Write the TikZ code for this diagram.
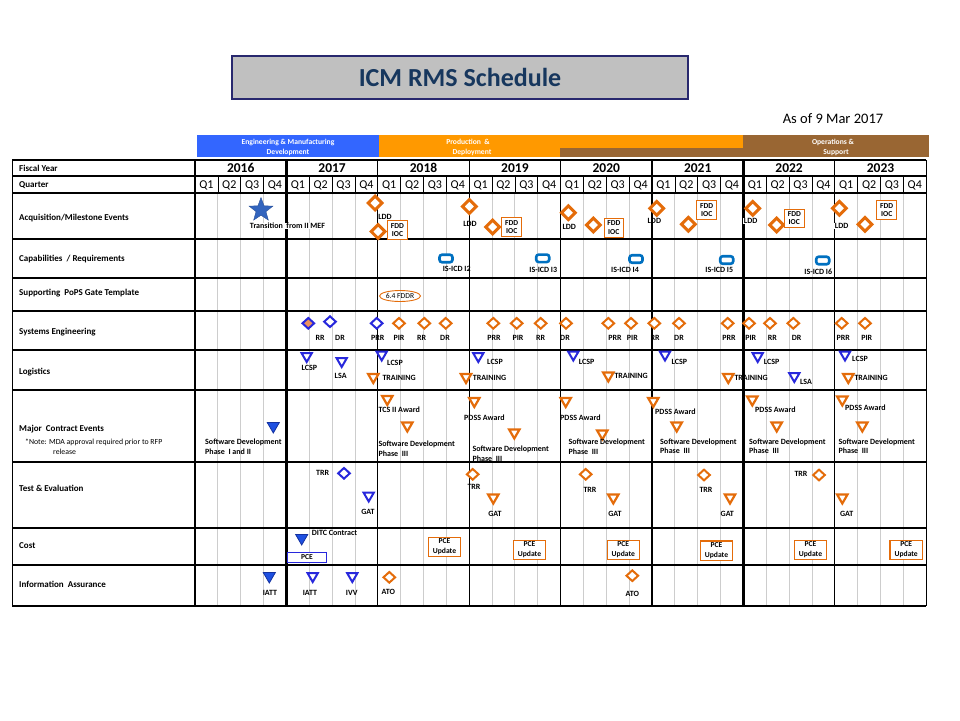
\documentclass[tikz,border=0pt]{standalone}
\usepackage{fontspec}
\setmainfont{Carlito}
\usetikzlibrary{shapes.geometric}
\definecolor{orgC}{RGB}{228,108,10}
\definecolor{bluC}{RGB}{40,40,220}
\definecolor{bluF}{RGB}{30,80,225}
\definecolor{bluD}{RGB}{20,50,160}
\definecolor{capC}{RGB}{0,112,192}
\definecolor{hdrBlue}{RGB}{51,102,255}
\definecolor{hdrOrange}{RGB}{255,153,0}
\definecolor{hdrBrown}{RGB}{153,102,51}
\definecolor{titleC}{RGB}{23,55,94}
\definecolor{titleB}{RGB}{40,40,110}
\definecolor{titleF}{RGB}{192,192,192}
\definecolor{gridG}{RGB}{205,205,205}
\definecolor{salmonC}{RGB}{235,145,95}
\definecolor{starC}{RGB}{50,100,190}
\begin{document}
\begin{tikzpicture}[x=1pt,y=-1pt,
  lbl/.style={font=\bfseries\fontsize{8}{9}\selectfont, inner sep=0pt, text height=5.2pt, text depth=0pt},
  lblw/.style={lbl, anchor=west},
  rowlbl/.style={font=\bfseries\fontsize{9}{10}\selectfont, anchor=west, inner sep=0pt, text height=5.9pt, text depth=0pt},
  hdr/.style={font=\bfseries\fontsize{7.6}{8}\selectfont, text=white, inner sep=0pt, text height=5pt, text depth=0pt},
  yr/.style={font=\bfseries\fontsize{13.5}{14}\selectfont, inner sep=0pt, text height=8.5pt, text depth=0pt},
  qt/.style={font=\fontsize{12}{13}\selectfont, inner sep=0pt, text height=7.7pt, text depth=0pt},
  odia/.style={diamond, draw=orgC, fill=white, line width=3pt, minimum width=15pt, minimum height=15pt, inner sep=0pt},
  sodia/.style={diamond, draw=orgC, fill=white, line width=2pt, minimum width=12.5pt, minimum height=11.5pt, inner sep=0pt},
  sbdia/.style={diamond, draw=bluC, fill=white, line width=2pt, minimum width=12.5pt, minimum height=11.5pt, inner sep=0pt},
  otri/.style={regular polygon, regular polygon sides=3, shape border rotate=180, draw=orgC, fill=white, line width=2.2pt, minimum size=12pt, inner sep=0pt},
  btri/.style={regular polygon, regular polygon sides=3, shape border rotate=180, draw=bluC, fill=white, line width=2pt, minimum size=12pt, inner sep=0pt},
  ftri/.style={regular polygon, regular polygon sides=3, shape border rotate=180, draw=bluD, fill=bluF, line width=0.8pt, minimum size=14pt, inner sep=0pt},
  fddbox/.style={draw=orgC, fill=white, line width=1pt, minimum width=19.6pt, minimum height=18.6pt, inner sep=0pt, align=center, font=\bfseries\fontsize{7.6}{8.5}\selectfont},
  pcebox/.style={draw=orgC, fill=white, line width=1.2pt, minimum width=32.4pt, minimum height=19.4pt, inner sep=0pt, align=center, font=\bfseries\fontsize{7.6}{10}\selectfont},
  capicon/.style={rectangle, rounded corners=2.5pt, draw=capC, fill=white, line width=2.6pt, minimum width=13pt, minimum height=7.5pt, inner sep=0pt},
  gridln/.style={draw=gridG, line width=0.9pt},
  rowln/.style={draw=black, line width=1.2pt},
  thinyr/.style={draw=black, line width=1.2pt},
  thickyr/.style={draw=black, line width=2.3pt}
]
\useasboundingbox (0,0) rectangle (960,720);

% ---------- title ----------
\node[draw=titleB, fill=titleF, line width=1.3pt, minimum width=456pt, minimum height=43pt, inner sep=0pt,
      font=\bfseries\fontsize{26}{28}\selectfont, text=titleC] (title) at (460,77.5) {ICM RMS Schedule};
\node[font=\fontsize{14.5}{16}\selectfont, inner sep=0pt] (asof) at (833,119) {As of 9 Mar 2017};

% ---------- phase header bars ----------
\fill[hdrBlue] (197,135) rectangle (379,157);
\fill[hdrOrange] (379,135) rectangle (743,148);
\fill[hdrOrange] (379,148) rectangle (560,157);
\fill[hdrBrown] (560,148) rectangle (743,157);
\fill[hdrBrown] (743,135) rectangle (929,157);
\node[hdr] (h1a) at (288,142) {Engineering \& Manufacturing};
\node[hdr] (h1b) at (288,151.5) {Development};
\node[hdr] (h2a) at (468,142) {Production \ \&};
\node[hdr] (h2b) at (472,151.5) {Deployment};
\node[hdr] (h3a) at (833,142) {Operations \&};
\node[hdr] (h3b) at (836,151.5) {Support};

% ---------- grid ----------
\foreach \k in {0,...,7}
  \foreach \q in {1,2,3}
    \draw[gridln] ({195+91.4*\k+22.85*\q},193) -- ({195+91.4*\k+22.85*\q},606);
\foreach \k in {0,...,7}
  \foreach \q in {1,2,3}
    \draw[line width=0.6pt] ({195+91.4*\k+22.85*\q},176) -- ({195+91.4*\k+22.85*\q},193);
\foreach \yy in {160,176,193,239,278,311,350,390,462,528,565,606}
  \draw[rowln] (12,\yy) -- (926.2,\yy);
\draw[line width=0.8pt] (12,160) -- (12,606);
\foreach \xx in {377.8,469.2,560.6,652,834.8,926.2}
  \draw[thinyr] (\xx,160) -- (\xx,606);
\foreach \xx in {195,286.4,743.4}
  \draw[thickyr] (\xx,160) -- (\xx,606);

% years and quarters
\foreach \yv [count=\i from 0] in {2016,2017,2018,2019,2020,2021,2022,2023}
  \node[yr] (yr\i) at ({195+91.4*\i+45.7},168.5) {\yv};
\foreach \k in {0,...,7}
  \foreach \q in {1,2,3,4}
    \node[qt] (q\k\q) at ({195+91.4*\k+22.85*(\q-0.5)},185) {Q\q};

% ---------- row labels ----------
\node[rowlbl] (r0) at (19,168.5) {Fiscal Year};
\node[rowlbl] (r1) at (19,185) {Quarter};
\node[rowlbl] (r2) at (19,217.5) {Acquisition/Milestone Events};
\node[rowlbl] (r3) at (19,259) {Capabilities \ / Requirements};
\node[rowlbl] (r4) at (19,293) {Supporting \ PoPS Gate Template};
\node[rowlbl] (r5) at (19,332) {Systems Engineering};
\node[rowlbl] (r6) at (19,372) {Logistics};
\node[rowlbl] (r7) at (19,428.5) {Major \ Contract Events};
\node[font=\fontsize{7.8}{9}\selectfont, anchor=west, inner sep=0pt, text height=5pt, text depth=0pt] (r7n) at (25,442) {*Note: MDA approval required prior to RFP};
\node[font=\fontsize{7.8}{9}\selectfont, anchor=west, inner sep=0pt, text height=5pt, text depth=0pt] (r7m) at (53,452) {release};
\node[rowlbl] (r8) at (19,489) {Test \& Evaluation};
\node[rowlbl] (r9) at (19,546) {Cost};
\node[rowlbl] (r10) at (19,585) {Information \ Assurance};

% ---------- Acquisition / Milestone ----------
\node[star, star points=5, star point ratio=2.4, minimum size=25pt, inner sep=0pt, fill=starC, draw=starC!80!black, line width=0.4pt] (star) at (261,210) {};
\node[lbl, fill=white, inner sep=0.8pt] (startx) at (287.5,226) {Transition \ from II MEF};

\node[odia] (a1) at (375,203) {};
\node[lbl] (a1l) at (385,216.5) {LDD};
\node[odia] (a2) at (378,231.5) {};
\node[fddbox] (a2b) at (397.5,230) {FDD\\IOC};
\node[odia] (a3) at (469.3,206.5) {};
\node[lbl] (a3l) at (470,224) {LDD};
\node[odia] (a4) at (492.7,227) {};
\node[fddbox] (a4b) at (511.7,227) {FDD\\IOC};
\node[odia] (a5) at (568.3,212.7) {};
\node[lbl] (a5l) at (569.3,227.3) {LDD};
\node[odia] (a6) at (593.3,225) {};
\node[fddbox] (a6b) at (613.8,227.8) {FDD\\IOC};
\node[odia] (a7) at (656.7,208.3) {};
\node[lbl] (a7l) at (654.3,221) {LDD};
\node[odia] (a8) at (688.3,224.3) {};
\node[fddbox] (a8b) at (706.7,210) {FDD\\IOC};
\node[odia] (a9) at (752.7,208.3) {};
\node[lbl, fill=white, inner sep=0.5pt] (a9l) at (750.7,220.7) {LDD};
\node[odia] (a10) at (776.7,225) {};
\node[fddbox] (a10b) at (794.3,218.3) {FDD\\IOC};
\node[odia] (a11) at (839.3,208.3) {};
\node[lbl, fill=white, inner sep=0.5pt] (a11l) at (841.7,226) {LDD};
\node[odia] (a12) at (865,224.3) {};
\node[fddbox] (a12b) at (886.7,210) {FDD\\IOC};

% ---------- Capabilities ----------
\node[capicon] (c2) at (446,258.5) {};
\node[lbl] (c2l) at (456.7,269.3) {IS-ICD I2};
\node[capicon] (c3) at (542.7,258.3) {};
\node[lbl] (c3l) at (543.3,270) {IS-ICD I3};
\node[capicon] (c4) at (636,259) {};
\node[lbl] (c4l) at (625,270) {IS-ICD I4};
\node[capicon] (c5) at (726.7,260) {};
\node[lbl] (c5l) at (719.3,270) {IS-ICD I5};
\node[capicon] (c6) at (822.7,260.5) {};
\node[lbl] (c6l) at (818.3,272.3) {IS-ICD I6};

% ---------- PoPS ----------
\node[ellipse, draw=orgC, line width=0.9pt, minimum width=41pt, minimum height=11pt, inner sep=0pt,
      font=\fontsize{7.6}{8}\selectfont] (pops) at (400,296) {6.4 FDDR};

% ---------- Systems Engineering ----------
\node[sbdia, fill=salmonC] (s1) at (308.3,323.3) {};
\node[lbl] (s1l) at (320,337.7) {RR};
\node[sbdia] (s2) at (330,321.7) {};
\node[lbl] (s2l) at (340,337.7) {DR};
\node[sbdia] (s3) at (376.7,323.3) {};
\node[lbl] (s3l) at (377.7,338.3) {PRR};
\node[sodia] (s4) at (399,323.3) {};
\node[lbl] (s4l) at (399,338.3) {PIR};
\node[sodia] (s5) at (424.3,323.3) {};
\node[lbl] (s5l) at (421.7,338.3) {RR};
\node[sodia] (s6) at (445.7,323.3) {};
\node[lbl] (s6l) at (445,338.3) {DR};
\node[sodia] (s7) at (493.3,323.3) {};
\node[lbl] (s7l) at (494,338.3) {PRR};
\node[sodia] (s8) at (516.7,323.3) {};
\node[lbl] (s8l) at (518,338.3) {PIR};
\node[sodia] (s9) at (540.7,323.3) {};
\node[lbl] (s9l) at (540.7,338.3) {RR};
\node[sodia] (s10) at (566,323.3) {};
\node[lbl] (s10l) at (565,338.3) {DR};
\node[sodia] (s11) at (608.3,323.3) {};
\node[lbl] (s11l) at (615,338.3) {PRR};
\node[sodia] (s12) at (631,323.3) {};
\node[lbl] (s12l) at (632.3,338.3) {PIR};
\node[sodia] (s13) at (654.3,323.3) {};
\node[lbl] (s13l) at (655,338.3) {RR};
\node[sodia] (s14) at (679,323.3) {};
\node[lbl] (s14l) at (679,338.3) {DR};
\node[sodia] (s15) at (727.7,323.3) {};
\node[lbl] (s15l) at (729,338.3) {PRR};
\node[sodia] (s16) at (749,323.3) {};
\node[lbl] (s16l) at (750.7,338.3) {PIR};
\node[sodia] (s17) at (770,323.3) {};
\node[lbl] (s17l) at (772.3,338.3) {RR};
\node[sodia] (s18) at (793.3,323.3) {};
\node[lbl] (s18l) at (796.7,338.3) {DR};
\node[sodia] (s19) at (841.7,323.3) {};
\node[lbl] (s19l) at (843.3,338.3) {PRR};
\node[sodia] (s20) at (865,323.3) {};
\node[lbl] (s20l) at (866.7,338.3) {PIR};

% ---------- Logistics ----------
\node[btri] (l1) at (306.7,356) {};
\node[lbl] (l1l) at (309.3,368.3) {LCSP};
\node[btri] (l2) at (341.7,361) {};
\node[lbl] (l2l) at (340.7,376) {LSA};
\node[btri] (l3) at (381.7,354.5) {};
\node[lbl] (l3l) at (395,363.3) {LCSP};
\node[otri] (l4) at (373.3,377) {};
\node[lblw] (l4l) at (382.3,378.3) {TRAINING};
\node[btri] (l5) at (478.3,356) {};
\node[lbl] (l5l) at (495,362.3) {LCSP};
\node[otri] (l6) at (466,377) {};
\node[lblw] (l6l) at (472.7,378.3) {TRAINING};
\node[btri] (l7) at (573.3,354.5) {};
\node[lbl] (l7l) at (586.7,362.3) {LCSP};
\node[otri] (l8) at (608.3,375.5) {};
\node[lblw] (l8l) at (614.3,376) {TRAINING};
\node[btri] (l9) at (665,354.5) {};
\node[lbl] (l9l) at (679.3,361.7) {LCSP};
\node[otri] (l10) at (728.3,377) {};
\node[lblw] (l10l) at (734.3,378.3) {TRAINING};
\node[btri] (l11) at (757.7,356) {};
\node[lbl] (l11l) at (771.7,362.3) {LCSP};
\node[btri] (l12) at (794.3,376) {};
\node[lbl] (l12l) at (806,382.3) {LSA};
\node[btri] (l13) at (845,354.5) {};
\node[lbl] (l13l) at (860,359) {LCSP};
\node[otri] (l14) at (848.3,377) {};
\node[lblw] (l14l) at (854.3,378.3) {TRAINING};

% ---------- Major Contract Events ----------
\node[ftri] (m0) at (273.3,426) {};
\node[lblw] (m0a) at (205,441.7) {Software Development};
\node[lblw] (m0b) at (205,451.7) {Phase \ I and II};
\node[otri] (m1) at (387.3,399) {};
\node[lblw] (m1l) at (378.3,410.3) {TCS II Award};
\node[otri] (m2) at (407.3,425.5) {};
\node[lblw] (m2a) at (378.3,444.3) {Software Development};
\node[lblw] (m2b) at (378.3,454.3) {Phase \ III};
\node[otri] (m3) at (474.3,401) {};
\node[lblw] (m3l) at (464,418.3) {PDSS Award};
\node[otri] (m4) at (514.3,432.5) {};
\node[lblw] (m4a) at (472.3,449.3) {Software Development};
\node[lblw] (m4b) at (472.3,459) {Phase \ III};
\node[otri] (m5) at (565.7,401) {};
\node[lblw] (m5l) at (560,418.3) {PDSS Award};
\node[otri] (m6) at (602.3,433.5) {};
\node[lblw] (m6a) at (568.3,442.3) {Software Development};
\node[lblw] (m6b) at (568.3,451.7) {Phase \ III};
\node[otri] (m7) at (653.3,401) {};
\node[lblw] (m7l) at (655,412.3) {PDSS Award};
\node[otri] (m8) at (676.7,425.5) {};
\node[lblw] (m8a) at (660,441.7) {Software Development};
\node[lblw] (m8b) at (660,451) {Phase \ III};
\node[otri] (m9) at (752.3,399.5) {};
\node[lblw] (m9l) at (755,410.3) {PDSS Award};
\node[otri] (m10) at (776.7,425.5) {};
\node[lblw] (m10a) at (749,441.7) {Software Development};
\node[lblw] (m10b) at (749,451) {Phase \ III};
\node[otri] (m11) at (842.3,399.5) {};
\node[lblw] (m11l) at (845,408.3) {PDSS Award};
\node[otri] (m12) at (862.3,425.5) {};
\node[lblw] (m12a) at (838.3,441.7) {Software Development};
\node[lblw] (m12b) at (838.3,451) {Phase \ III};

% ---------- Test & Evaluation ----------
\node[sbdia] (t1) at (344,473.3) {};
\node[lbl] (t1l) at (322.7,472.7) {TRR};
\node[btri] (t2) at (368.7,495.5) {};
\node[lbl] (t2l) at (368,512.3) {GAT};
\node[sodia] (t3) at (472.7,474.3) {};
\node[lbl] (t3l) at (474,487.3) {TRR};
\node[otri] (t4) at (493.3,497.5) {};
\node[lbl] (t4l) at (495,514) {GAT};
\node[sodia] (t5) at (585.7,474.3) {};
\node[lbl] (t5l) at (590,490) {TRR};
\node[otri] (t6) at (613.3,497.5) {};
\node[lbl] (t6l) at (615,514) {GAT};
\node[sodia] (t7) at (704,475) {};
\node[lbl] (t7l) at (706,490) {TRR};
\node[otri] (t8) at (730,497.5) {};
\node[lbl] (t8l) at (727.3,514) {GAT};
\node[sodia] (t9) at (819,475) {};
\node[lbl] (t9l) at (801,474.3) {TRR};
\node[otri] (t10) at (842.3,497.5) {};
\node[lbl] (t10l) at (846.7,514) {GAT};

% ---------- Cost ----------
\node[ftri] (k1) at (301.7,538) {};
\node[lblw] (k1l) at (311.7,532.7) {DITC Contract};
\node[draw=bluC, fill=white, line width=1pt, minimum width=39.4pt, minimum height=10.4pt, inner sep=0pt,
      font=\bfseries\fontsize{7.6}{8}\selectfont] (k2) at (307,557.5) {PCE};
\node[pcebox] (k3) at (444.5,547) {PCE\\Update};
\node[pcebox] (k4) at (529.5,549.8) {PCE\\Update};
\node[pcebox] (k5) at (623.3,549.8) {PCE\\Update};
\node[pcebox] (k6) at (716.5,550.7) {PCE\\Update};
\node[pcebox] (k7) at (810.5,549.8) {PCE\\Update};
\node[pcebox] (k8) at (906.2,549.8) {PCE\\Update};

% ---------- Information Assurance ----------
\node[ftri] (i1) at (269.3,576) {};
\node[lbl] (i1l) at (270,592.7) {IATT};
\node[btri] (i2) at (312.7,576) {};
\node[lbl] (i2l) at (310,593.3) {IATT};
\node[btri] (i3) at (352.3,576) {};
\node[lbl] (i3l) at (351.7,593.3) {IVV};
\node[sodia] (i4) at (389.3,577.3) {};
\node[lbl] (i4l) at (388.3,592.3) {ATO};
\node[sodia] (i5) at (632.3,575.7) {};
\node[lbl] (i5l) at (632.3,594.3) {ATO};
\end{tikzpicture}
\end{document}
